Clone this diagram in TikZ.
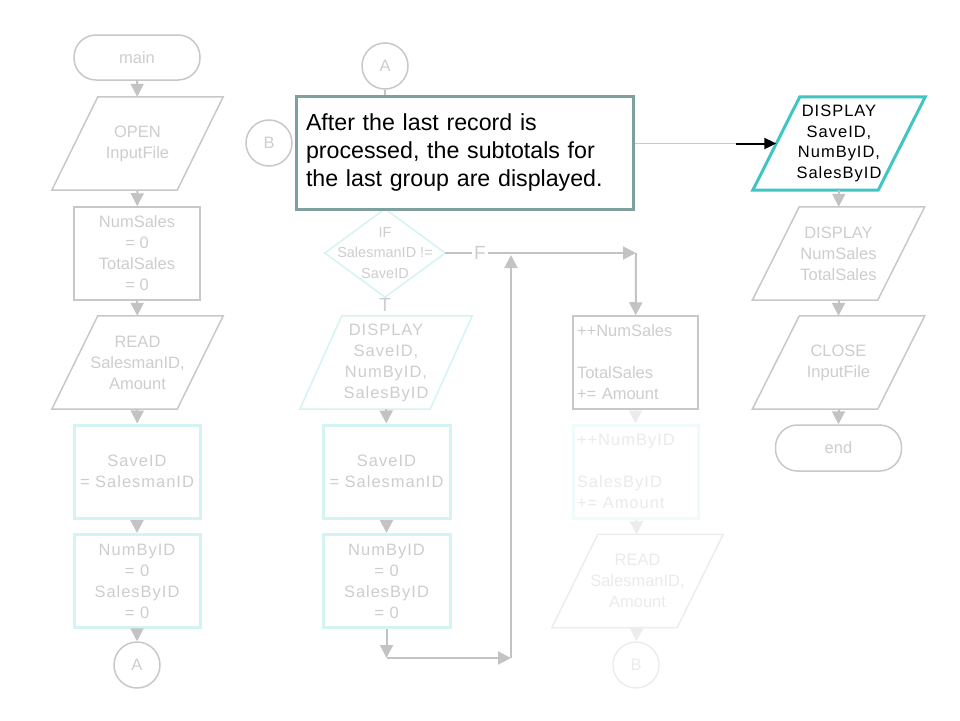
\documentclass[tikz,border=0pt]{standalone}
\usepackage{fontspec}
\setmainfont{Liberation Sans}
\newfontfamily\spaced[LetterSpace=6]{Liberation Sans}
\usetikzlibrary{arrows.meta}
\definecolor{lgray}{RGB}{200,200,200}
\definecolor{tgray}{RGB}{205,205,205}
\definecolor{agray}{RGB}{195,195,195}
\definecolor{fcyan}{RGB}{212,243,243}
\definecolor{hcyan}{RGB}{64,196,196}
\definecolor{callc}{RGB}{128,160,160}
\definecolor{fline}{RGB}{236,236,236}
\definecolor{ftext}{RGB}{234,234,234}
\definecolor{fcyan2}{RGB}{240,250,250}
\newcommand\parallelo[3]{\draw[#3] ([xshift=#2]#1.north west) -- ([xshift=#2]#1.north east) -- ([xshift=-#2]#1.south east) -- ([xshift=-#2]#1.south west) -- cycle;}
\begin{document}
\begin{tikzpicture}[x=1pt,y=-1pt,
  every node/.style={text=tgray, font=\fontsize{16.5}{21}\selectfont, align=center, inner sep=0},
  rbox/.style={draw=lgray, line width=1.5, minimum width=126, minimum height=93},
  cbox/.style={draw=fcyan, line width=3, minimum width=126, minimum height=93, font=\spaced\fontsize{16.5}{21}\selectfont},
  pnode/.style={minimum width=125, minimum height=93},
  term/.style={draw=lgray, line width=1.5, rounded corners=22, minimum width=126, minimum height=45},
  conn/.style={circle, draw=lgray, line width=1.5, minimum size=46},
  pline/.style={draw=lgray, line width=1.5},
  arr/.style={draw=agray, line width=2, -{Triangle[width=13pt,length=13pt]}},
  farr/.style={draw=fline, line width=2, -{Triangle[width=13pt,length=13pt]}},
  lbl/.style={font=\fontsize{19}{20}\selectfont, fill=white, inner xsep=2}
]
\useasboundingbox (0,0) rectangle (960,720);

% column 1
\node[term] (main) at (137,57.5) {main};
\node[pnode] (open) at (137.5,143.5) {OPEN\\InputFile};
\parallelo{open}{23}{pline}
\node[rbox] (nums) at (137,253.5) {NumSales\\= 0\\TotalSales\\= 0};
\node[pnode] (read1) at (137.5,362.5) {READ\\SalesmanID,\\Amount};
\parallelo{read1}{23}{pline}
\node[cbox] (save1) at (137,471.5) {SaveID\\= SalesmanID};
\node[cbox] (nbid1) at (137,581) {NumByID\\= 0\\SalesByID\\= 0};
\node[conn] (a1) at (137,665) {A};
\draw[arr] (main) -- (open);
\draw[arr] (open) -- (nums);
\draw[arr] (nums) -- (read1);
\draw[arr] (read1) -- (save1);
\draw[arr] (save1) -- (nbid1);
\draw[arr] (nbid1) -- (a1);

% column 2
\node[conn] (a2) at (385,66) {A};
\node[conn] (b2) at (269,143) {B};
\node[minimum width=120, minimum height=88, font=\fontsize{14.5}{20.5}\selectfont] (if) at (385,253) {IF\\SalesmanID !=\\SaveID};
\draw[fcyan, line width=1.5] (if.north) -- (if.east) -- (if.south) -- (if.west) -- cycle;
\draw[arr] (a2) -- (if);
\node[lbl] (F) at (480,253) {F};
\node[lbl, fill=none] (T) at (385,305) {T};
\node[pnode, minimum width=130, font=\spaced\fontsize{16.5}{21}\selectfont] (disp2) at (386,362.5) {DISPLAY\\SaveID,\\NumByID,\\SalesByID};
\parallelo{disp2}{21}{draw=fcyan, line width=1.5}
\node[cbox, minimum width=127] (save2) at (386.5,471.5) {SaveID\\= SalesmanID};
\node[cbox, minimum width=127] (nbid2) at (386.5,581) {NumByID\\= 0\\SalesByID\\= 0};
\coordinate (m1) at (386.5,658);
\coordinate (m2) at (511,658);
\coordinate (j) at (511,253);
\coordinate (c3) at (636,253);
\draw[arr] (disp2) -- (save2);
\draw[arr] (save2) -- (nbid2);
\draw[arr] (nbid2) -- (m1);
\draw[arr] (m1) -- (m2);
\draw[arr, shorten >=2pt] (m2) -- (j);
\draw[draw=agray, line width=2] (if.east) -- (F.west);
\draw[arr] (F.east) -- (c3);

% column 3
\node[rbox, minimum width=125, text width=117, align=left] (ns) at (635.5,362.5) {++NumSales\\\mbox{}\\TotalSales\\+= Amount};
\draw[arr] (c3) -- (ns);
\node[cbox, draw=fcyan2, minimum width=125, text width=117, align=left, text=ftext] (nbid3) at (635.5,471.5) {++NumByID\\\mbox{}\\SalesByID\\+= Amount};
\node[pnode, text=ftext] (read3) at (637.5,581) {READ\\SalesmanID,\\Amount};
\parallelo{read3}{23}{draw=fline, line width=1.5}
\node[conn, draw=fline, text=ftext] (b3) at (636,665) {B};
\draw[farr] (ns) -- (nbid3);
\draw[farr] (nbid3) -- (read3);
\draw[farr] (read3) -- (b3);

% column 4
\node[pnode, text=black, font=\spaced\fontsize{16.5}{20.7}\selectfont] (disp4) at (839,143.5) {DISPLAY\\SaveID,\\NumByID,\\SalesByID};
\parallelo{disp4}{23.5}{draw=hcyan, line width=3}
\node[pnode] (disp5) at (838.5,253.5) {DISPLAY\\NumSales\\TotalSales};
\parallelo{disp5}{23.5}{pline}
\node[pnode] (close) at (838.5,362.5) {CLOSE\\InputFile};
\parallelo{close}{23.5}{pline}
\node[term, minimum height=46] (end) at (838.5,448) {end};
\draw[arr] (disp4) -- (disp5);
\draw[arr] (disp5) -- (close);
\draw[arr] (close) -- (end);

% callout
\node[draw=callc, line width=3, fill=white, minimum width=337, minimum height=113, text width=317, inner xsep=10, align=left, text=black, font=\fontsize{23.2}{28}\selectfont] (call) at (464.5,152.5) {After the last record is\\processed, the subtotals for\\the last group are displayed.};
\coordinate (k) at (736,143.5);
\draw[draw=lgray, line width=1.5] (call.east |- k) -- (k);
\draw[black, line width=2, -{Triangle[width=11pt,length=12pt]}] (k) -- (disp4.west);
\end{tikzpicture}
\end{document}
